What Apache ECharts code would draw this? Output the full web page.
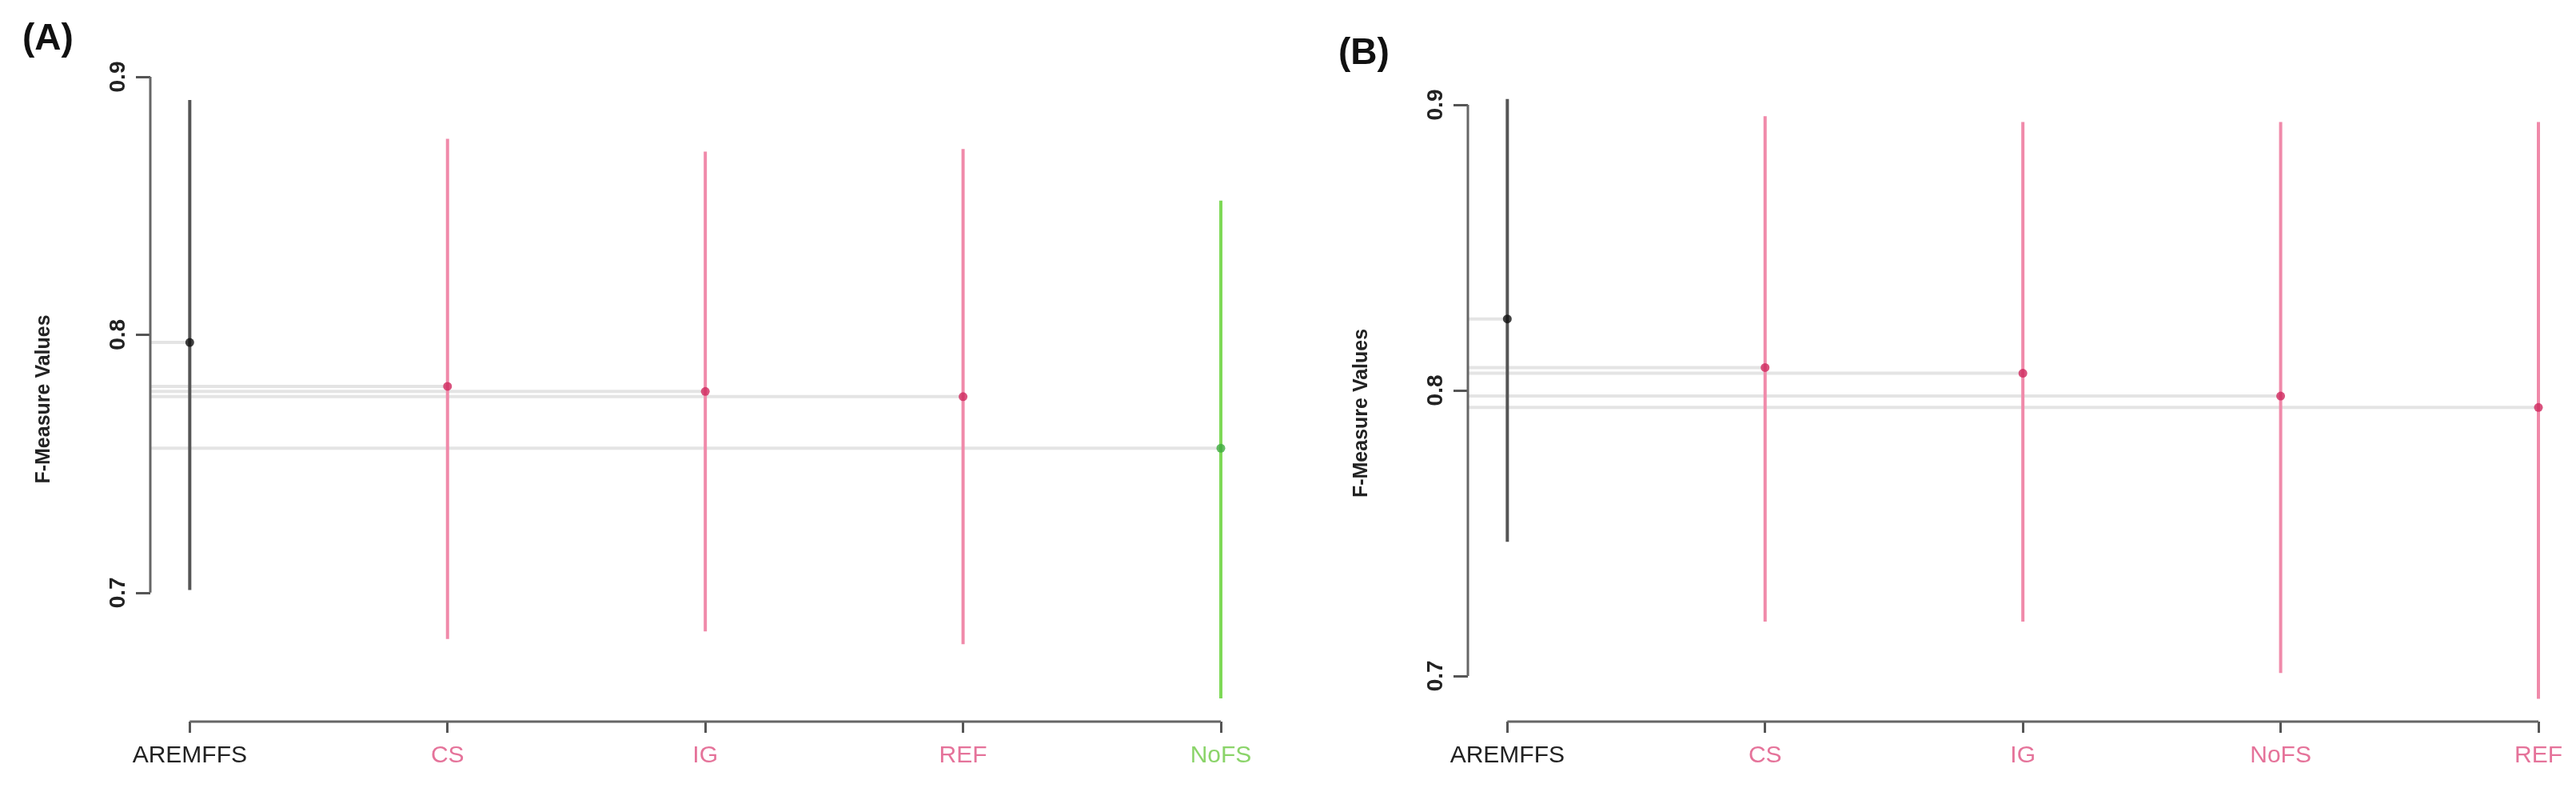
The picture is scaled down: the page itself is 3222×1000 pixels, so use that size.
<!DOCTYPE html>
<html><head><meta charset="utf-8">
<script src="https://cdn.jsdelivr.net/npm/echarts@6/dist/echarts.min.js"></script>
<style>html,body{margin:0;padding:0;background:#fff}#c{width:3222px;height:1000px}</style>
</head><body><div id="c"></div>
<script>
// Panel A
const catsA = ['AREMFFS','CS','IG','REF','NoFS'];
const meanA = [0.797, 0.780, 0.778, 0.776, 0.756];
const lowA  = [0.701, 0.682, 0.685, 0.680, 0.659];
const highA = [0.891, 0.876, 0.871, 0.872, 0.852];
const colA  = ['k','p','p','p','g'];
// Panel B
const catsB = ['AREMFFS','CS','IG','NoFS','REF'];
const meanB = [0.825, 0.808, 0.806, 0.798, 0.794];
const lowB  = [0.747, 0.719, 0.719, 0.701, 0.692];
const highB = [0.902, 0.896, 0.894, 0.894, 0.894];
const colB  = ['k','p','p','p','p'];
const yTicks = [0.7, 0.8, 0.9];

const LINE = {k:'#555555', p:'#F08AAA', g:'#7ED957'};
const PT = {k:'#111111', p:'#D0285E', g:'#3DAA3D'};
const LBL = {k:'#222222', p:'#E5739A', g:'#8BD46A'};
const OFF = -0.153;

function buildSeries(gi, cats, mean, low, high, col, yMin){
  const s = [];
  cats.forEach((c,i)=>{
    s.push({type:'line', xAxisIndex:gi, yAxisIndex:gi, data:[[OFF,mean[i]],[i,mean[i]]], symbol:'none', silent:true,
      lineStyle:{color:'#e4e4e4', width:4}, z:1, clip:false});
    s.push({type:'line', xAxisIndex:gi, yAxisIndex:gi, data:[[i,low[i]],[i,high[i]]], symbol:'none', silent:true,
      lineStyle:{color:LINE[col[i]], width:4}, z:2, clip:false});
  });
  s.push({type:'scatter', xAxisIndex:gi, yAxisIndex:gi, data:mean.map((m,i)=>({value:[i,m], itemStyle:{color:PT[col[i]]}})),
    symbolSize:11, z:5, clip:false});
  s.push({type:'line', xAxisIndex:gi, yAxisIndex:gi, data:[[0,yMin],[cats.length-1,yMin]], symbol:'none', silent:true,
    lineStyle:{color:'#666', width:3}, z:3, clip:false});
  s.push({type:'line', xAxisIndex:gi, yAxisIndex:gi, data:[[OFF,yTicks[0]],[OFF,yTicks[yTicks.length-1]]], symbol:'none', silent:true,
    lineStyle:{color:'#666', width:3}, z:3, clip:false});
  return s;
}
function rich(cats,col){const r={};cats.forEach((c,i)=>{r['c'+i]={color:LBL[col[i]],fontSize:30,fontFamily:'Liberation Sans, Arial'};});return r;}
function xAx(gi,cats,col){
  return {type:'value', gridIndex:gi, min:OFF, max:cats.length-1, splitLine:{show:false}, axisLine:{show:false, onZero:false},
    axisTick:{show:true, customValues:cats.map((c,i)=>i), length:14, lineStyle:{color:'#555',width:3}},
    axisLabel:{customValues:cats.map((c,i)=>i), margin:28, formatter:v=>'{c'+Math.round(v)+'|'+cats[Math.round(v)]+'}', rich:rich(cats,col)}};
}
function yAx(gi,min){
  return {type:'value', gridIndex:gi, min:min, max:0.9, splitLine:{show:false}, axisLine:{show:false, onZero:false},
    axisTick:{show:true, customValues:yTicks, length:18, lineStyle:{color:'#555',width:3}},
    axisLabel:{customValues:yTicks, rotate:90, margin:26, fontSize:28, fontWeight:'bold', color:'#222', fontFamily:'Liberation Sans, Arial', formatter:v=>v.toFixed(1)},
    name:'F-Measure Values', nameLocation:'middle', nameGap:120, nameRotate:90,
    nameTextStyle:{fontSize:25, fontWeight:'bold', color:'#222', fontFamily:'Liberation Sans, Arial'}};
}
const chart = echarts.init(document.getElementById('c'));
chart.setOption({
  animation:false,
  backgroundColor:'#fff',
  graphic:[
    {type:'text', left:28, top:26, style:{text:'(A)', fontSize:46, fontWeight:'bold', fill:'#111', fontFamily:'Liberation Sans, Arial'}},
    {type:'text', left:1674, top:44, style:{text:'(B)', fontSize:46, fontWeight:'bold', fill:'#111', fontFamily:'Liberation Sans, Arial'}}
  ],
  grid:[
    {left:188, right:3222-1527, top:96, bottom:98},
    {left:1836, right:47, top:131, bottom:98}
  ],
  xAxis:[xAx(0,catsA,colA), xAx(1,catsB,colB)],
  yAxis:[yAx(0,0.650), yAx(1,0.684)],
  series:[].concat(buildSeries(0,catsA,meanA,lowA,highA,colA,0.650), buildSeries(1,catsB,meanB,lowB,highB,colB,0.684))
});
</script></body></html>
